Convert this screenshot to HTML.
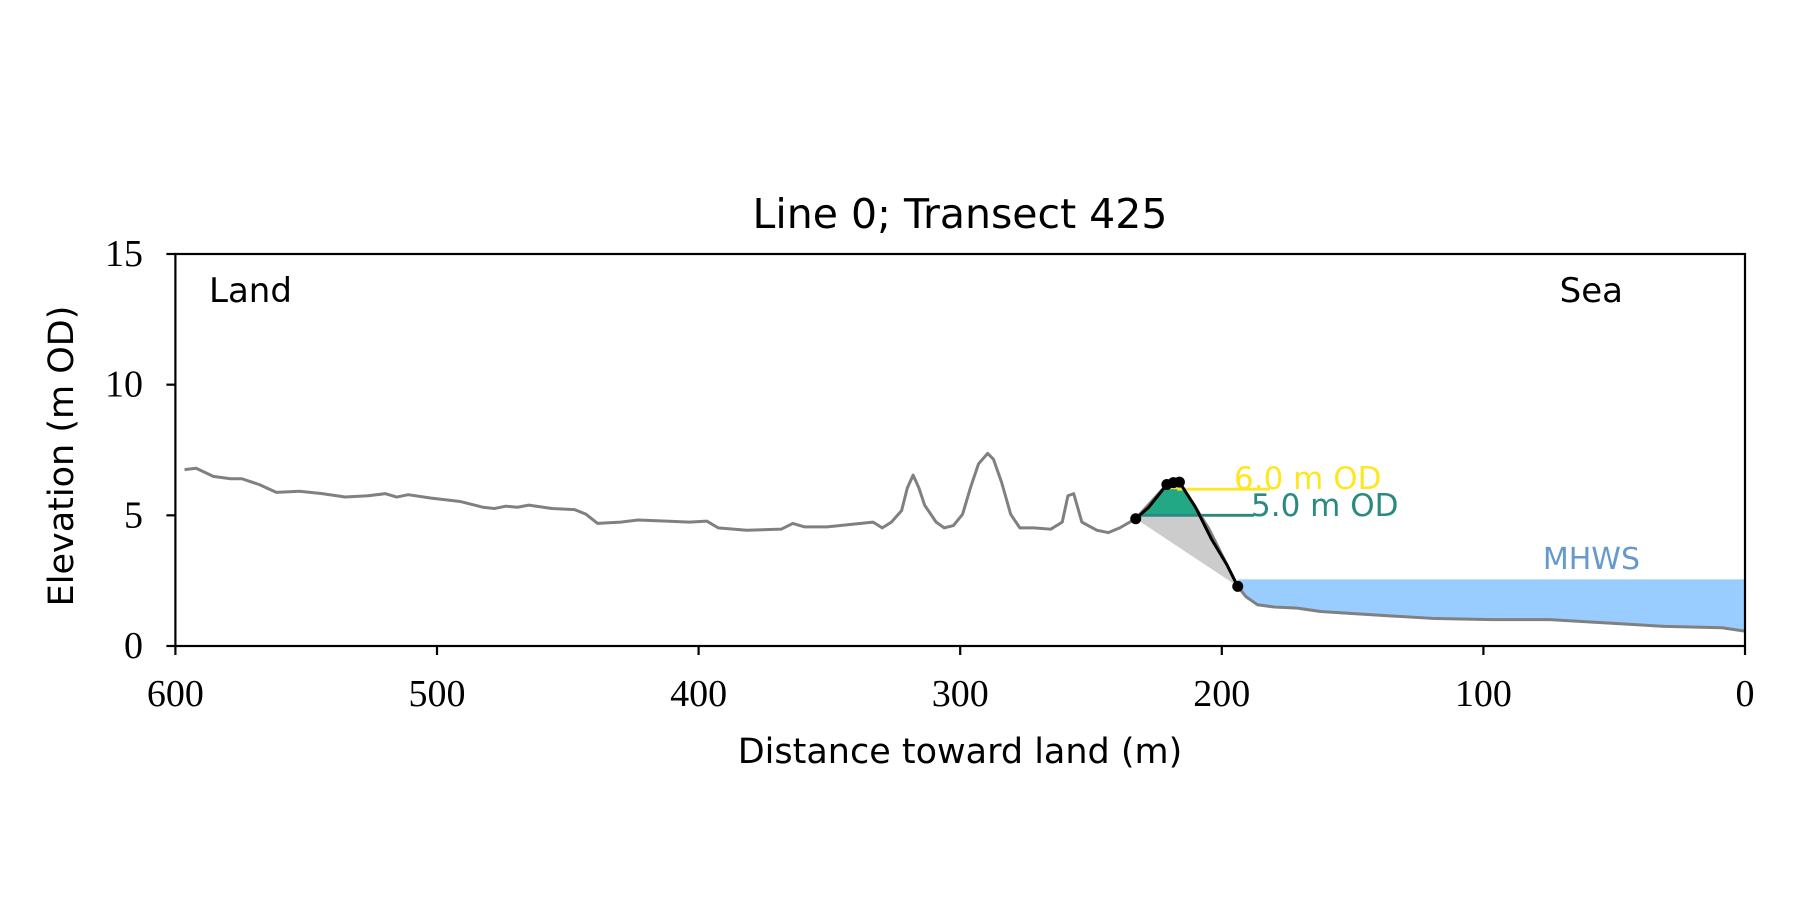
<!DOCTYPE html>
<html><head><meta charset="utf-8"><style>
html,body{margin:0;padding:0;background:#fff}
svg{display:block}
.sans{font-family:"DejaVu Sans","Liberation Sans",sans-serif}
.serif{font-family:"Liberation Serif",serif}
</style></head><body>
<svg id="chart" width="1800" height="900" viewBox="0 0 1800 900"></svg>
<script>
const dist=[596.5,592.1,585.5,578.9,574.6,568,561.4,552.6,543.9,535.1,526.3,519.7,515.4,511,502.2,491.2,482.5,478.1,473.7,469.3,464.9,456.1,447.4,443,438.6,429.8,423.2,412.3,403.5,396.9,392.5,381.6,368.4,364,359.6,350.9,342.1,333.3,329.8,326.3,322.4,320.2,318,315.8,313.6,309.2,306.1,302.6,299.1,296.1,293,289.5,287.3,284.2,280.7,277.2,271.9,265.4,261,258.8,256.6,253.5,247.8,243.4,239,232.9,221,216.2,205,193.9,190.8,186.4,179.8,171.1,162.3,140.4,118.4,96.5,74.6,52.6,30.7,8.8,0];
const elev=[6.75,6.8,6.49,6.4,6.4,6.18,5.88,5.92,5.83,5.7,5.75,5.83,5.7,5.79,5.66,5.53,5.31,5.26,5.35,5.31,5.39,5.26,5.22,5.04,4.69,4.74,4.82,4.78,4.74,4.78,4.52,4.43,4.47,4.69,4.56,4.56,4.65,4.74,4.52,4.74,5.18,6.05,6.54,6.05,5.39,4.74,4.52,4.61,5.04,6.05,6.97,7.37,7.15,6.27,5.04,4.52,4.52,4.47,4.74,5.75,5.83,4.74,4.43,4.34,4.52,4.87,6.18,6.27,4.5,2.28,1.89,1.58,1.49,1.45,1.32,1.18,1.05,1.01,1.01,0.88,0.75,0.7,0.57];
const cliffDist=[232.9,228,224,221,218.5,216.2,210,204,198,193.9];
const cliffElev=[4.87,5.3,5.8,6.18,6.25,6.27,5.3,4.1,3.1,2.28];
const cliffDots=[[232.9,4.87],[221,6.18],[218.5,6.25],[216.2,6.27],[193.9,2.28]];
const xTicks=[600,500,400,300,200,100,0];
const yTicks=[0,5,10,15];
const mhws=2.55, odHigh=6.0, odLow=5.0;
const L=175.4,R=1745,T=254,B=646;
const X=d=>L+(600-d)/600*(R-L);
const Y=e=>B-e/15*(B-T);
const svg=document.getElementById('chart');
const NS='http://www.w3.org/2000/svg';
function mk(tag,attrs,parent){const e=document.createElementNS(NS,tag);for(const k in attrs)e.setAttribute(k,attrs[k]);(parent||svg).appendChild(e);return e;}
let pts=[[X(193.9),Y(mhws)],[X(0),Y(mhws)]];
for(let i=dist.length-1;i>=0;i--){if(dist[i]<=193.9)pts.push([X(dist[i]),Y(elev[i])]);}
let el=mk('polygon',{points:pts.map(p=>p.join(',')).join(' '),fill:'#99ccff'});


pts=[[X(cliffDist[0]),Y(cliffElev[0])]];
for(let i=0;i<cliffDist.length;i++)pts.push([X(cliffDist[i]),Y(cliffElev[i])]);
el=mk('polygon',{points:pts.map(p=>p.join(',')).join(' '),fill:'#cccccc'});


function fillAbove(lvl,color,name){const p=[];for(let i=0;i<cliffDist.length-1;i++){const a=cliffElev[i],b=cliffElev[i+1];if(a>=lvl)p.push([X(cliffDist[i]),Y(a)]);if((a-lvl)*(b-lvl)<0){const t=(lvl-a)/(b-a);p.push([X(cliffDist[i]+t*(cliffDist[i+1]-cliffDist[i])),Y(lvl)]);}}
const e=mk('polygon',{points:p.map(q=>q.join(',')).join(' '),fill:color});}
fillAbove(odLow,'#22a884','fill-above-5m');
fillAbove(odHigh,'#fde725','fill-above-6m');
el=mk('line',{x1:X(217),x2:X(181.6),y1:Y(odHigh),y2:Y(odHigh),stroke:'#fde725','stroke-width':2.8});


el=mk('line',{x1:X(231),x2:X(187.7),y1:Y(odLow),y2:Y(odLow),stroke:'#2a8a80','stroke-width':2.8});


el=mk('polyline',{points:dist.map((d,i)=>X(d)+','+Y(elev[i])).join(' '),fill:'none',stroke:'#808080','stroke-width':3,'stroke-linejoin':'round'});


el=mk('polyline',{points:cliffDist.map((d,i)=>X(d)+','+Y(cliffElev[i])).join(' '),fill:'none',stroke:'#000','stroke-width':3,'stroke-linejoin':'round'});


cliffDots.forEach(p=>{const c=mk('circle',{cx:X(p[0]),cy:Y(p[1]),r:5.5,fill:'#000'});

});
function txt(s,x,y,attrs,name){const e=mk('text',Object.assign({x:x,y:y},attrs));e.textContent=s;return e;}
txt('6.0 m OD',1234,489,{class:'sans','font-size':31,fill:'#fde725'},'od-6m-label');
txt('5.0 m OD',1251,516,{class:'sans','font-size':31,fill:'#2a8a80'},'od-5m-label');
txt('MHWS',1640,569,{class:'sans','font-size':30,fill:'#6699cc','text-anchor':'end'},'mhws-label');
txt('Land',209,302,{class:'sans','font-size':34},'land-label');
txt('Sea',1623,302,{class:'sans','font-size':34,'text-anchor':'end'},'sea-label');
el=mk('rect',{x:L,y:T,width:R-L,height:B-T,fill:'none',stroke:'#000','stroke-width':2.2});


xTicks.forEach(v=>{const x=X(v);const t=mk('line',{x1:x,x2:x,y1:B,y2:B+9,stroke:'#000','stroke-width':2.2});


txt(String(v),x,706,{class:'serif','font-size':38,'text-anchor':'middle'},'x-tick-label');});
yTicks.forEach(v=>{const y=Y(v);const t=mk('line',{x1:L-9,x2:L,y1:y,y2:y,stroke:'#000','stroke-width':2.2});


txt(String(v),143,y+12,{class:'serif','font-size':38,'text-anchor':'end'},'y-tick-label');});
txt('Line 0; Transect 425',960,228,{class:'sans','font-size':41,'text-anchor':'middle'},'chart-title');
txt('Distance toward land (m)',960,763,{class:'sans','font-size':35,'text-anchor':'middle'},'x-axis-title');
txt('Elevation (m OD)',0,0,{class:'sans','font-size':35,'text-anchor':'middle',transform:'translate(73,456) rotate(-90)'},'y-axis-title');
</script>
</body></html>
